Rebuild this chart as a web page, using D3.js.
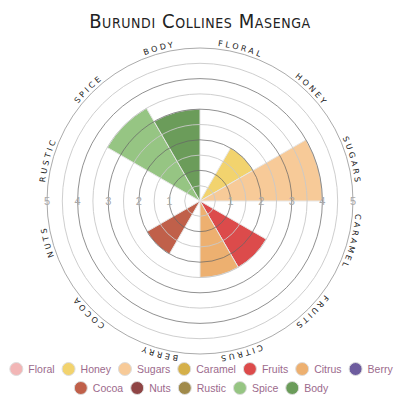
<!DOCTYPE html>
<html><head><meta charset="utf-8">
<script src="https://cdn.jsdelivr.net/npm/d3@7"></script>
<style>
html,body{margin:0;padding:0;background:#fff;}
svg{display:block;}
</style></head>
<body>
<svg id="chart" width="400" height="400"></svg>
<script>
const title = "Burundi Collines Masenga";
const categories = ["Floral","Honey","Sugars","Caramel","Fruits","Citrus","Berry","Cocoa","Nuts","Rustic","Spice","Body"];
const values = [0, 2, 4, 0, 2.5, 2.5, 0, 2, 0, 0, 3.5, 3];
const colors = ["#f2b6b6","#f2d36e","#f7ca98","#d5b04a","#dc4b4b","#edb070","#6d5c9e","#c0604a","#8f4545","#a08a4a","#96c583","#6b9c5a"];
const tickValues = [1,2,3,4,5];
const gridValues = [0.5,1,1.5,2,2.5,3,3.5,4,4.5,5];

const svg = d3.select("#chart");
const cx = 200, cy = 201, R = 153;
const r = d3.scaleLinear().domain([0,5]).range([0,R]);
const ang = d3.scaleBand().domain(categories).range([0, 2*Math.PI]);

svg.append("text").attr("x",200).attr("y",28).attr("text-anchor","middle")
  .style("font-family","'Liberation Sans Narrow','DejaVu Sans Condensed',sans-serif")
  .style("font-size","20px").style("font-variant","small-caps").style("letter-spacing","0.6px")
  .attr("fill","#222").text(title);

const g = svg.append("g").attr("transform",`translate(${cx},${cy})`);

const arc = d3.arc().innerRadius(0)
  .outerRadius(d=>r(d.v)).startAngle(d=>ang(d.c)).endAngle(d=>ang(d.c)+ang.bandwidth());

g.selectAll("path.w").data(categories.map((c,i)=>({c, v: values[i], col: colors[i]})).filter(d=>d.v>0))
  .join("path").attr("class","w").attr("d",arc).attr("fill",d=>d.col)
  .attr("stroke","#e6e6e6").attr("stroke-width",1);

g.selectAll("circle.grid").data(gridValues).join("circle").attr("class","grid")
  .attr("r",d=>r(d)).attr("fill","none")
  .attr("stroke",d=> d===5 ? "#888" : (Number.isInteger(d) ? "#666" : "#c8c8c8"))
  .attr("stroke-opacity",d=> Number.isInteger(d) ? 0.8 : 1)
  .attr("stroke-width",0.9);

// numbers on horizontal axis
[1,-1].forEach(s=>{
  g.selectAll(null).data(tickValues).join("text")
    .attr("x",d=>s*r(d)).attr("y",0).attr("dy","0.35em").attr("text-anchor","middle")
    .style("font-family","'Liberation Sans',Arial,sans-serif").style("font-size","11px")
    .attr("fill","#a8a8a8").text(d=>d);
});

// curved labels
const LR = R + 3;
g.append("path").attr("id","labelPath").attr("fill","none")
  .attr("d",`M0,${-LR} A${LR},${LR} 0 1,1 0,${LR} A${LR},${LR} 0 1,1 0,${-LR}`);
g.selectAll("text.lab").data(categories).join("text").attr("class","lab")
  .style("font-family","'DejaVu Sans',sans-serif").style("font-size","8px")
  .style("letter-spacing","2.6px").attr("fill","#222")
  .append("textPath").attr("href","#labelPath")
  .attr("startOffset",d=>LR*(ang(d)+ang.bandwidth()/2))
  .attr("text-anchor","middle").text(d=>d.toUpperCase());

// legend
const rows = [categories.slice(0,7), categories.slice(7)];
const rowY = [369, 388];
rows.forEach((row,ri)=>{
  const lg = svg.append("g");
  let x = 0;
  row.forEach(c=>{
    const item = lg.append("g").attr("transform",`translate(${x},0)`);
    item.append("circle").attr("cx",7).attr("cy",0).attr("r",6.5)
      .attr("fill",colors[categories.indexOf(c)]).attr("stroke","#ddd").attr("stroke-width",1);
    const t = item.append("text").attr("x",19).attr("y",0).attr("dy","0.35em")
      .style("font-family","'Liberation Sans',Arial,sans-serif").style("font-size","10.5px")
      .attr("fill","#9c6a8c").text(c);
    x += 19 + t.node().getComputedTextLength() + 7;
  });
  x -= 7;
  lg.attr("transform",`translate(${201 - x/2},${rowY[ri]})`);
});
</script>
</body></html>
